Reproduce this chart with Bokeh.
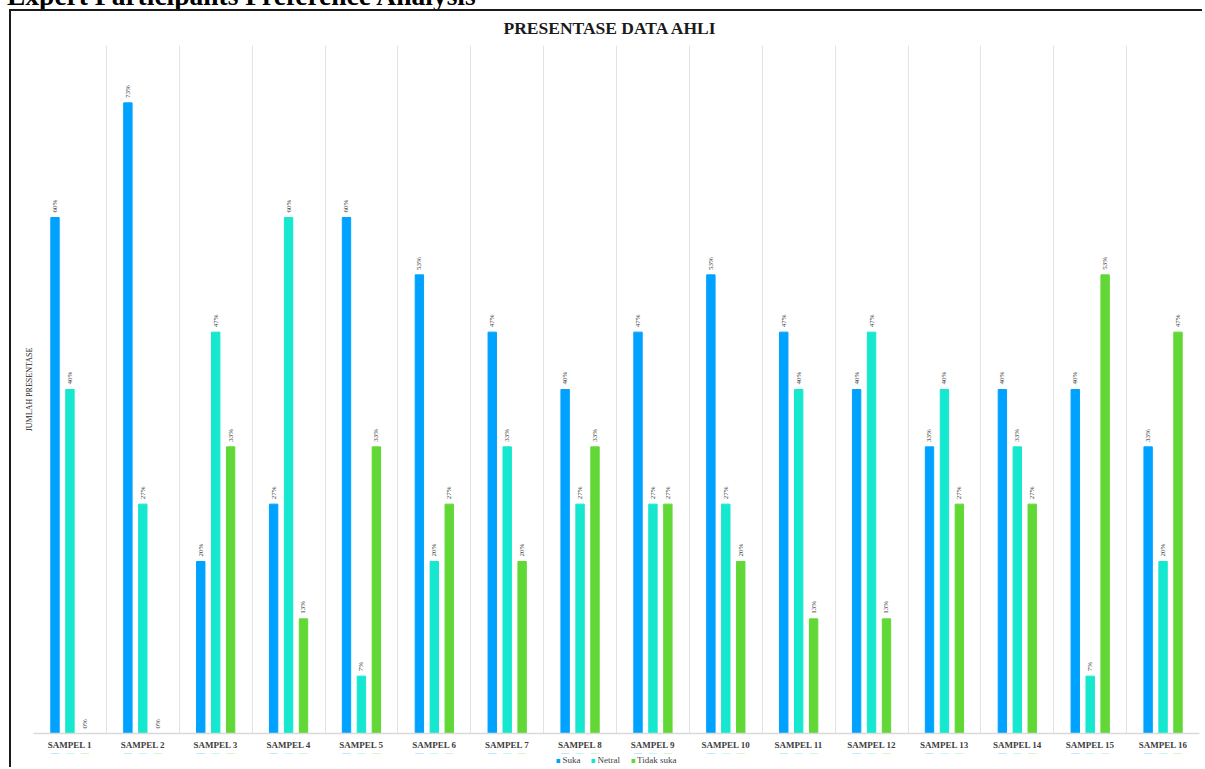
import math
from bokeh.plotting import figure
from bokeh.models import (Range1d, FixedTicker, ColumnDataSource, LabelSet, Legend,
                          LegendItem, Div)
from bokeh.transform import dodge
from bokeh.layouts import column
from bokeh.embed import file_html
from bokeh.resources import INLINE

# ---- data (percent of 15 expert respondents) ----
samples = ["SAMPEL 1", "SAMPEL 2", "SAMPEL 3", "SAMPEL 4", "SAMPEL 5", "SAMPEL 6",
           "SAMPEL 7", "SAMPEL 8", "SAMPEL 9", "SAMPEL 10", "SAMPEL 11", "SAMPEL 12",
           "SAMPEL 13", "SAMPEL 14", "SAMPEL 15", "SAMPEL 16"]
suka = [60.00, 73.33, 20.00, 26.67, 60.00, 53.33, 46.67, 40.00,
        46.67, 53.33, 46.67, 40.00, 33.33, 40.00, 40.00, 33.33]
netral = [40.00, 26.67, 46.67, 60.00, 6.67, 20.00, 33.33, 26.67,
          26.67, 26.67, 40.00, 46.67, 40.00, 33.33, 6.67, 20.00]
tidak_suka = [0.00, 0.00, 33.33, 13.33, 33.33, 26.67, 20.00, 33.33,
              26.67, 20.00, 13.33, 13.33, 26.67, 26.67, 53.33, 46.67]
series_names = ["Suka", "Netral", "Tidak suka"]
colors = ["#00A2FF", "#16E7CF", "#61D836"]
heading = "Expert Participants Preference Analysis"
chart_title = "PRESENTASE DATA AHLI"
y_title = "JUMLAH PRESENTASE"

SERIF = "Liberation Serif"
n = len(samples)
centers = [i + 0.5 for i in range(n)]

p = figure(width=1193, height=744, x_range=Range1d(0, n), y_range=Range1d(0, 80),
           output_backend="svg", toolbar_location=None,
           min_border_left=22, min_border_right=5, min_border_top=34, min_border_bottom=22,
           margin=(0, 0, 0, 9),
           styles={"border-left": "2px solid #1a1a1a", "border-top": "2px solid #1a1a1a"})
p.outline_line_color = None
p.background_fill_color = "white"
p.border_fill_color = "white"

p.title.text = chart_title
p.title.align = "left"
p.title.offset = 470
p.title.vertical_align = "top"
p.title.text_font = SERIF
p.title.text_font_size = "17.5px"
p.title.text_font_style = "bold"
p.title.text_color = "#1a1a1a"
p.title.standoff = 12

# grid: vertical lines at category boundaries
p.ygrid.grid_line_color = None
p.xgrid.ticker = FixedTicker(ticks=list(range(n + 1)))
p.xgrid.grid_line_color = "#e3e3e3"
p.xgrid.grid_line_width = 1

# x axis
p.xaxis.ticker = FixedTicker(ticks=centers)
p.xaxis.major_label_overrides = {c: s for c, s in zip(centers, samples)}
p.xaxis.major_tick_line_color = None
p.xaxis.minor_tick_line_color = None
p.xaxis.axis_line_color = "#d9d9d9"
p.xaxis.axis_line_width = 1.5
p.xaxis.major_label_text_font = SERIF
p.xaxis.major_label_text_font_size = "9px"
p.xaxis.major_label_text_font_style = "bold"
p.xaxis.major_label_text_color = "#404040"
p.xaxis.major_label_standoff = 0

# y axis: only its title
p.yaxis.ticker = FixedTicker(ticks=[])
p.yaxis.axis_label = y_title
p.yaxis.axis_label_text_font = SERIF
p.yaxis.axis_label_text_font_size = "8px"
p.yaxis.axis_label_text_font_style = "normal"
p.yaxis.axis_label_text_color = "#1a1a1a"
p.yaxis.axis_label_standoff = 0
p.yaxis.axis_line_color = None
p.yaxis.major_tick_line_color = None
p.yaxis.minor_tick_line_color = None
p.yaxis.major_label_standoff = 0
p.yaxis.major_tick_out = 0

# legend strip below the chart: a small companion figure that shares the same
# data sources; its y range lies far away from the data so its bars stay out of
# view and only the legend is seen.
lg = figure(width=1193, height=14, x_range=p.x_range, y_range=Range1d(-5000, -4999),
            output_backend="svg", toolbar_location=None,
            x_axis_location=None, y_axis_location=None, min_border=0,
            margin=(0, 0, 0, 9), styles={"border-left": "2px solid #1a1a1a"})
lg.grid.visible = False
lg.outline_line_color = None
lg.border_fill_color = "white"
lg.background_fill_color = "white"

offsets = [-0.205, 0.0, 0.205]
legend_renderers = []
for name, vals, col, off in zip(series_names, [suka, netral, tidak_suka], colors, offsets):
    src = ColumnDataSource(dict(x=centers, v=vals, lab=[f"{round(v)}%" for v in vals]))
    p.vbar(x=dodge("x", off, range=p.x_range), top="v", width=0.115, source=src,
           fill_color=col, line_color=col)
    labels = LabelSet(x=dodge("x", off, range=p.x_range), y="v", text="lab", source=src,
                      angle=math.pi / 2, text_align="left", text_baseline="middle",
                      y_offset=5, text_font=SERIF, text_font_size="7px",
                      text_color="#404040")
    p.add_layout(labels)
    legend_renderers.append(lg.vbar(x=dodge("x", off, range=p.x_range), top="v", width=0.115,
                                    source=src, fill_color=col, line_color=None))

legend = Legend(items=[LegendItem(label=nm, renderers=[r]) for nm, r in zip(series_names, legend_renderers)],
                orientation="horizontal", location="center", margin=0, padding=2,
                spacing=10, label_standoff=2, glyph_width=5, glyph_height=5,
                label_height=9, label_width=10,
                label_text_font=SERIF, label_text_font_size="9px", label_text_color="#404040",
                border_line_color=None, background_fill_alpha=0)
lg.add_layout(legend, "center")

header = Div(text=('<div style="position:relative; top:-18.5px; left:7px; font-family:\'Liberation Serif\';'
                   ' font-weight:bold; font-size:27.5px; line-height:27.5px; white-space:nowrap;'
                   ' color:#000;">' + heading + '</div>'),
             width=1205, height=9, margin=0, styles={"overflow": "visible"})

layout = column(header, p, lg, spacing=0)
open("out.html", "w").write(file_html(layout, INLINE))
